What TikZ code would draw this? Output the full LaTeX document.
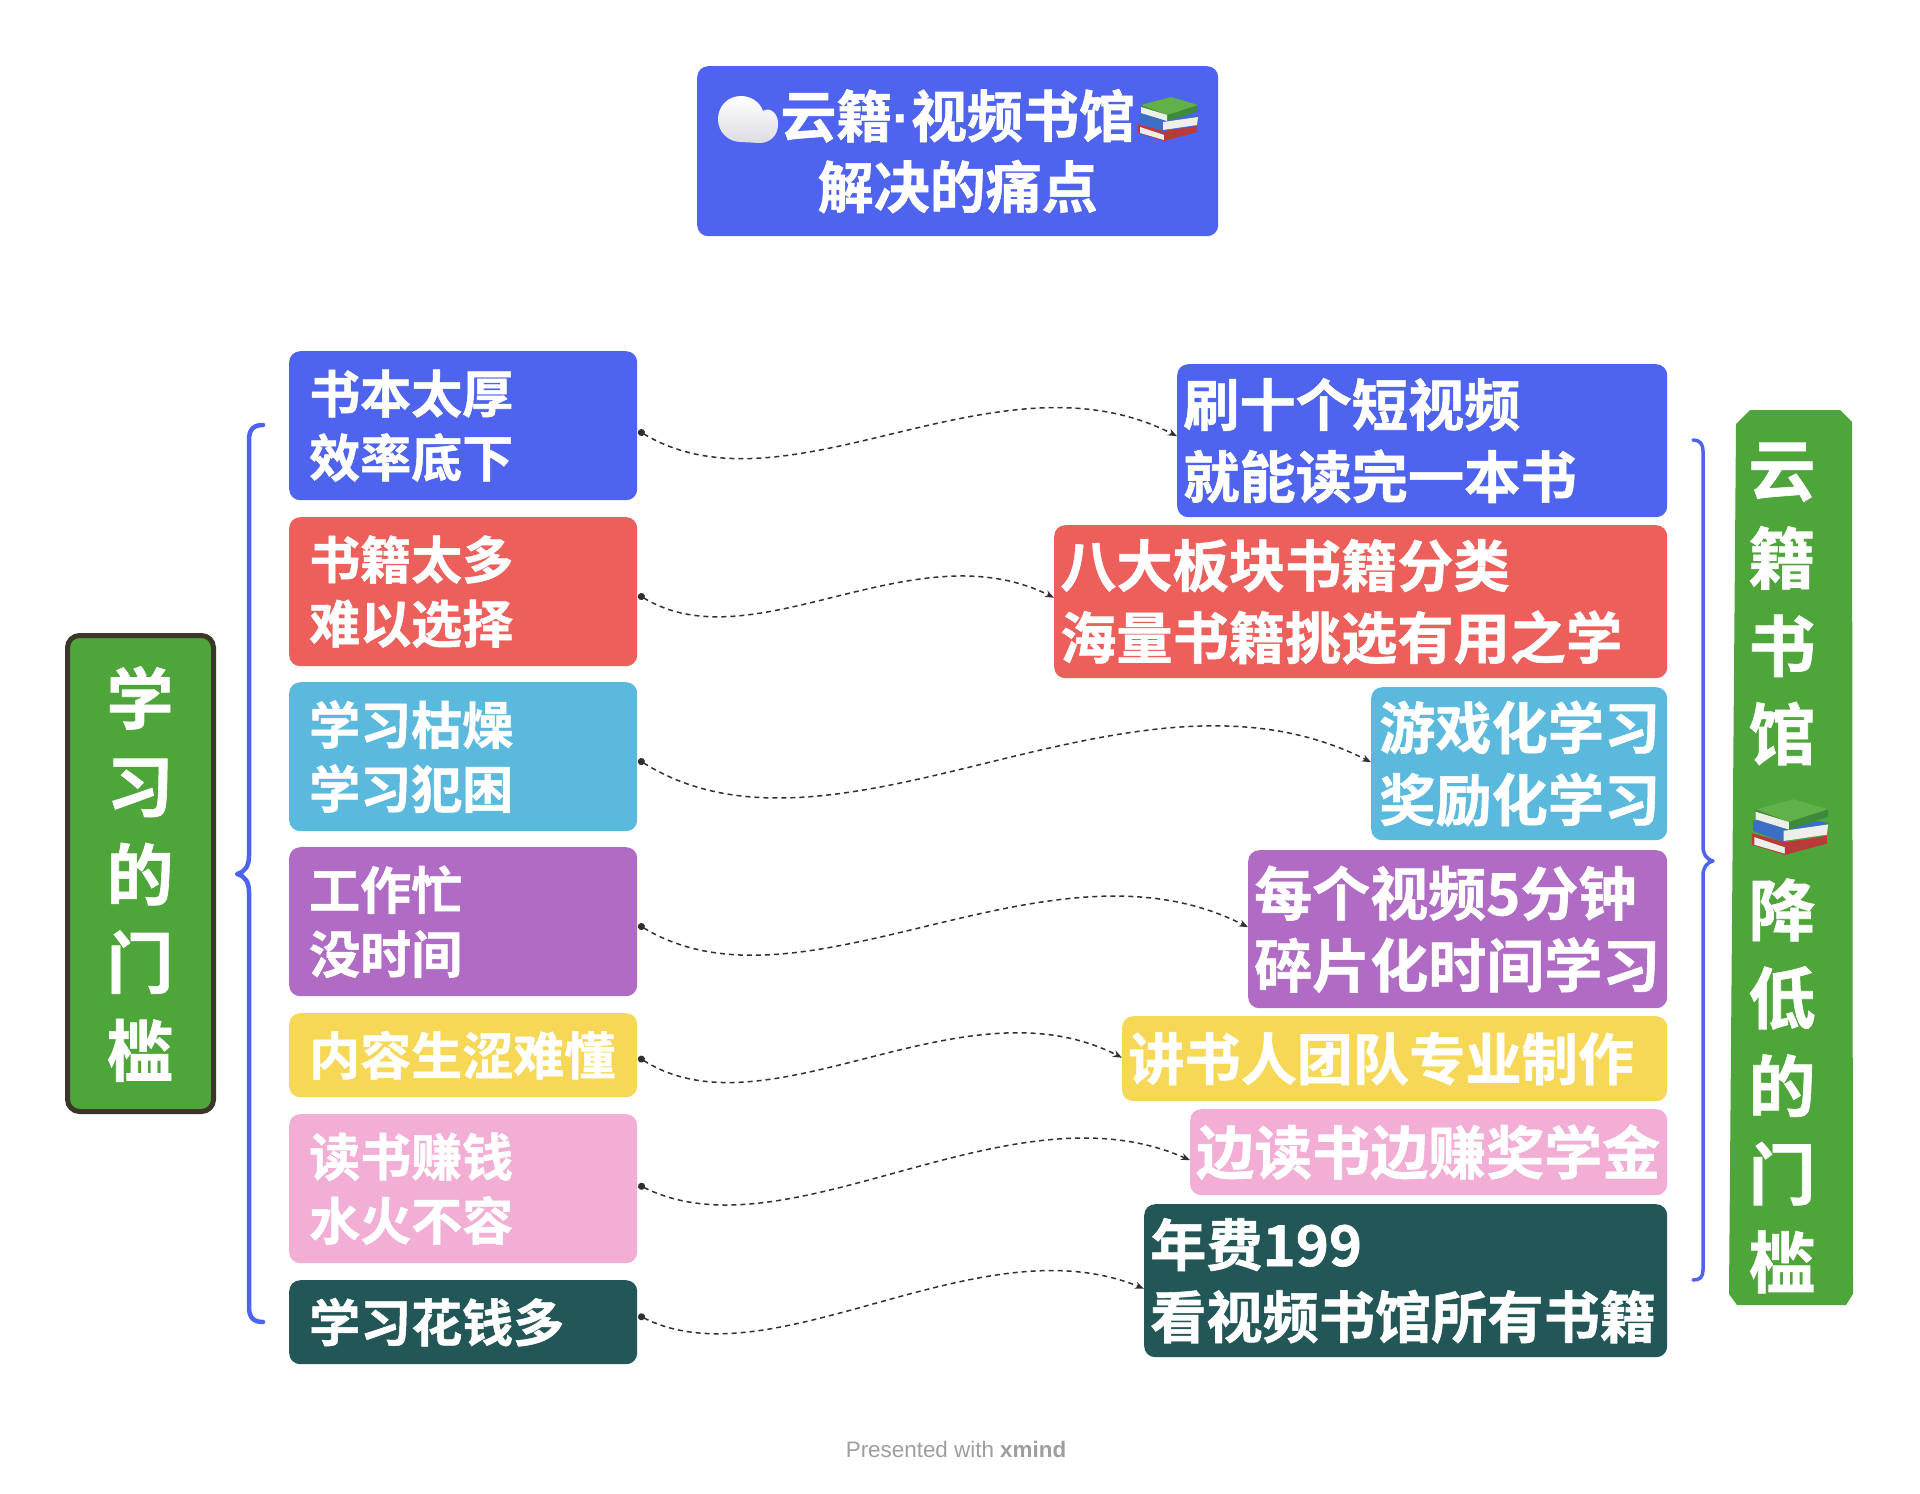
\documentclass[tikz,border=0pt]{standalone}
\usepackage{fontspec}
\setmainfont{Noto Sans CJK SC}[BoldFont={Noto Sans CJK SC Bold},BoldFeatures={FakeBold=1}]
\newfontfamily\footfont{Liberation Sans}
\usetikzlibrary{arrows.meta}
\definecolor{cblue}{HTML}{4E63EE}
\definecolor{cred}{HTML}{EC5F5A}
\definecolor{ccyan}{HTML}{5CB9DE}
\definecolor{cpurple}{HTML}{B06BC4}
\definecolor{cyellow}{HTML}{F7D856}
\definecolor{cpink}{HTML}{F2AED4}
\definecolor{cteal}{HTML}{235757}
\definecolor{cgreen}{HTML}{4EA53A}
\definecolor{cedge}{HTML}{3A3628}
\definecolor{cdash}{HTML}{303030}
\definecolor{bookg}{HTML}{62B04A}
\definecolor{bookgd}{HTML}{3F8A3A}
\definecolor{bookb}{HTML}{3B6FC4}
\definecolor{bookr}{HTML}{B83A3A}
\definecolor{bookp}{HTML}{EFEFEA}
\tikzset{
  x=1pt,y=-1pt,
  box/.style={anchor=north west,rounded corners=11pt,inner sep=0pt,text=white,align=left,font=\bfseries},
  lbox/.style={box,minimum width=348pt,text width=308pt,font=\fontsize{51}{64}\selectfont\bfseries},
  rbox/.style={box,font=\fontsize{56.2}{72}\selectfont\bfseries},
  rboxb/.style={box,font=\fontsize{58}{72}\selectfont\bfseries},
  vtext/.style={text=white,align=center,inner sep=0pt,font=\fontsize{67}{88}\selectfont\bfseries},
  brace/.style={draw=cblue,line cap=round,line join=round},
  link/.style={draw=cdash,line width=1.5pt,dash pattern=on 5pt off 4pt,{Circle[length=7pt]}-{Stealth[length=9pt,width=7pt]}},
  pics/books/.style={code={
    \fill[bookr] (-30,5) -- (-4,12) -- (29,7) -- (29,13) -- (-4,22) -- (-30,14) -- cycle;
    \fill[bookp] (-28,8) -- (-4,16) -- (-4,21) -- (-28,14) -- cycle;
    \fill[bookr] (-4,15) -- (29,7) -- (27,13) -- (-4,21) -- cycle;
    \fill[bookb] (-29,-5) -- (-3,-9) -- (31,-3) -- (-5,12) -- (-29,3) -- cycle;
    \fill[bookp] (-5,3) -- (30,-2) -- (29,6) -- (-5,11) -- cycle;
    \fill[bookgd] (-27,-14) -- (3,-22) -- (30,-14) -- (30,-8) -- (-1,2) -- (-27,-7) -- cycle;
    \fill[bookg] (-27,-14) -- (3,-22) -- (30,-14) -- (-1,-4) -- cycle;
    \fill[bookp] (-27,-12) -- (-1,-4) -- (-1,2) -- (-27,-6) -- cycle;
  }},
  pics/cloud/.style={code={
    \shade[top color=white,bottom color=blue!10!gray!25!white]
      (-6,23) .. controls (-19,23) and (-29,13) .. (-29,0)
      .. controls (-29,-13) and (-19,-23) .. (-6,-23)
      .. controls (4,-23) and (13,-17) .. (16,-8)
      .. controls (24,-13) and (32,-4) .. (31,6)
      .. controls (31,16) and (23,24) .. (13,24) -- cycle;
  }}
}
\begin{document}
\begin{tikzpicture}
\useasboundingbox (0,0) rectangle (1920,1494);
\fill[white] (0,0) rectangle (1920,1494);

% title
\node[box,fill=cblue,minimum width=521pt,minimum height=170pt,text width=521pt,align=center,font=\fontsize{56}{71}\selectfont\bfseries] (title) at (697,66) {云籍{\footfont\bfseries ·}视频书馆\\解决的痛点};
\pic at (747,119) {cloud};
\pic at (1168,119) {books};

% left group
\node[fill=cgreen,draw=cedge,line width=5pt,rounded corners=12pt,minimum width=146pt,minimum height=476pt,inner sep=0pt] (lgroup) at (140.5,873.5) {};
\node[vtext] (ltext) at (140,874) {学\\习\\的\\门\\槛};
\draw[brace,line width=4.5pt] (263,425) .. controls (254,425) and (249,429) .. (249,440) -- (249,856)
  .. controls (249,866) and (245,872) .. (237,874) .. controls (245,876) and (249,882) .. (249,892)
  -- (249,1307) .. controls (249,1318) and (254,1322) .. (263,1322);

% right group
\fill[cgreen] (1750,410) -- (1840,410) -- (1852,422) -- (1853,1294) -- (1846,1305) -- (1737,1305) -- (1729,1294) -- (1736,424) -- cycle;
\node[vtext] (rtext) at (1782,868) {云\\籍\\书\\馆\\~\\降\\低\\的\\门\\槛};
\pic[scale=1.27] at (1790,827) {books};
\draw[brace,line width=3.5pt] (1693,440) .. controls (1700,440) and (1703,444) .. (1703,451) -- (1703,846)
  .. controls (1703,854) and (1706,859) .. (1713,861) .. controls (1706,863) and (1703,868) .. (1703,876)
  -- (1703,1270) .. controls (1703,1277) and (1700,1280) .. (1693,1280);

% left boxes
\node[lbox,fill=cblue,minimum height=149pt] (l1) at (289,351) {书本太厚\\效率底下};
\node[lbox,fill=cred,minimum height=149pt] (l2) at (289,517) {书籍太多\\难以选择};
\node[lbox,fill=ccyan,minimum height=149pt] (l3) at (289,682) {学习枯燥\\学习犯困};
\node[lbox,fill=cpurple,minimum height=149pt] (l4) at (289,847) {工作忙\\没时间};
\node[lbox,fill=cyellow,minimum height=84pt] (l5) at (289,1013) {内容生涩难懂};
\node[lbox,fill=cpink,minimum height=149pt] (l6) at (289,1114) {读书赚钱\\水火不容};
\node[lbox,fill=cteal,minimum height=84pt] (l7) at (289,1280) {学习花钱多};

% right boxes
\node[rbox,fill=cblue,minimum width=490pt,text width=478pt,minimum height=153pt] (r1) at (1177,364) {刷十个短视频\\就能读完一本书};
\node[rbox,fill=cred,minimum width=613pt,text width=601pt,minimum height=153pt] (r2) at (1054,525) {八大板块书籍分类\\海量书籍挑选有用之学};
\node[rbox,fill=ccyan,minimum width=296pt,text width=280pt,minimum height=153pt] (r3) at (1371,687) {游戏化学习\\奖励化学习};
\node[rboxb,fill=cpurple,minimum width=419pt,text width=407pt,minimum height=158pt] (r4) at (1248,850) {每个视频5分钟\\碎片化时间学习};
\node[rbox,fill=cyellow,minimum width=545pt,text width=533pt,minimum height=85pt] (r5) at (1122,1016) {讲书人团队专业制作};
\node[rboxb,fill=cpink,minimum width=477pt,text width=465pt,minimum height=86pt] (r6) at (1190,1109) {边读书边赚奖学金};
\node[rbox,fill=cteal,minimum width=523pt,text width=511pt,minimum height=153pt] (r7) at (1144,1204) {年费199\\看视频书馆所有书籍};

% connectors
\draw[link] ([shift={(1,5)}]l1.east) .. controls +(150,90) and +(-180,-92) .. ([yshift=4.5]r1.west);
\draw[link] ([shift={(1,3)}]l2.east) .. controls +(115,70) and +(-140,-70) .. ([yshift=4]r2.west);
\draw[link] ([shift={(1,3)}]l3.east) .. controls +(200,125) and +(-240,-122) .. ([yshift=1.5]r3.west);
\draw[link] ([shift={(1,3)}]l4.east) .. controls +(165,100) and +(-200,-102) .. ([yshift=2]r4.west);
\draw[link] ([shift={(1,2)}]l5.east) .. controls +(130,82) and +(-160,-82) .. ([yshift=1]r5.west);
\draw[link] ([shift={(1,-4)}]l6.east) .. controls +(150,75) and +(-180,-80) .. ([yshift=-8]r6.west);
\draw[link] ([shift={(1,-7)}]l7.east) .. controls +(135,68) and +(-165,-68) .. ([yshift=-8]r7.west);

% footer
\node[inner sep=0pt,text=black!38,font=\footfont\fontsize{22.4}{26}\selectfont] (foot) at (956,1449) {Presented with \textbf{xmind}};
\end{tikzpicture}
\end{document}
